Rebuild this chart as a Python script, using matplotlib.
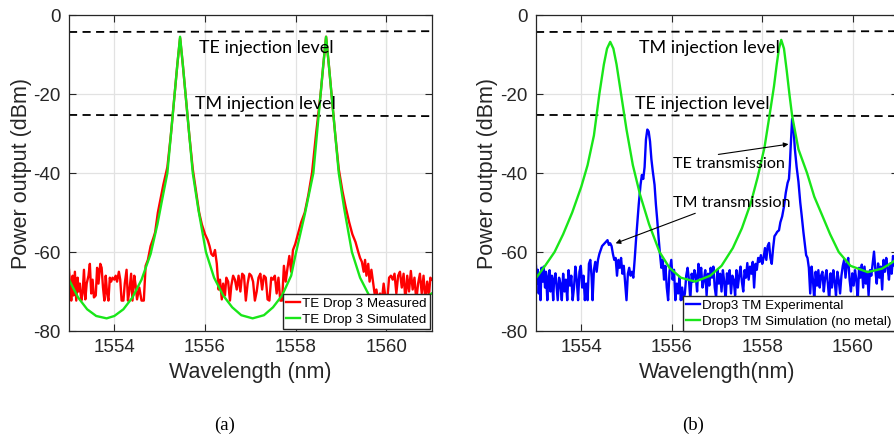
import numpy as np
import matplotlib
matplotlib.use('Agg')
import matplotlib.pyplot as plt

plt.rcParams['font.family'] = ['Liberation Sans', 'DejaVu Sans']
plt.rcParams['axes.unicode_minus'] = False

# ---- panel (a): TE drop 3 ----
te_meas_wl = [
    1553.00, 1553.03, 1553.05, 1553.08, 1553.10, 1553.13, 1553.16, 1553.19, 1553.21, 1553.24,
    1553.27, 1553.30, 1553.33, 1553.36, 1553.39, 1553.43, 1553.46, 1553.49, 1553.52, 1553.55,
    1553.59, 1553.62, 1553.65, 1553.69, 1553.72, 1553.75, 1553.78, 1553.81, 1553.84, 1553.87,
    1553.90, 1553.93, 1553.96, 1554.00, 1554.03, 1554.06, 1554.10, 1554.13, 1554.16, 1554.20,
    1554.23, 1554.27, 1554.30, 1554.33, 1554.37, 1554.40, 1554.44, 1554.47, 1554.50, 1554.55,
    1554.60, 1554.65, 1554.69, 1554.74, 1554.80, 1554.86, 1554.90, 1554.96, 1555.02, 1555.08,
    1555.17, 1555.25, 1555.33, 1555.39, 1555.45, 1555.51, 1555.57, 1555.65, 1555.73, 1555.80,
    1555.87, 1555.93, 1556.00, 1556.06, 1556.10, 1556.14, 1556.18, 1556.22, 1556.26, 1556.30,
    1556.33, 1556.37, 1556.40, 1556.44, 1556.47, 1556.51, 1556.55, 1556.58, 1556.62, 1556.66,
    1556.70, 1556.74, 1556.78, 1556.82, 1556.86, 1556.90, 1556.94, 1556.98, 1557.02, 1557.06,
    1557.10, 1557.14, 1557.18, 1557.22, 1557.26, 1557.30, 1557.34, 1557.38, 1557.42, 1557.46,
    1557.50, 1557.54, 1557.58, 1557.62, 1557.66, 1557.70, 1557.74, 1557.78, 1557.82, 1557.86,
    1557.90, 1557.94, 1557.99, 1558.05, 1558.12, 1558.20, 1558.28, 1558.36, 1558.45, 1558.55,
    1558.61, 1558.67, 1558.73, 1558.79, 1558.87, 1558.95, 1559.03, 1559.10, 1559.18, 1559.25,
    1559.32, 1559.38, 1559.42, 1559.46, 1559.50, 1559.53, 1559.56, 1559.60, 1559.63, 1559.67,
    1559.70, 1559.74, 1559.78, 1559.82, 1559.86, 1559.90, 1559.94, 1559.98, 1560.02, 1560.06,
    1560.10, 1560.14, 1560.18, 1560.22, 1560.26, 1560.30, 1560.34, 1560.38, 1560.42, 1560.46,
    1560.50, 1560.54, 1560.58, 1560.62, 1560.66, 1560.70, 1560.74, 1560.78, 1560.82, 1560.86,
    1560.90, 1560.94, 1560.97, 1561.00]
te_meas_db = [
    -64.5, -69.5, -72.3, -66.0, -71.0, -65.0, -72.3, -66.5, -70.0, -68.0,
    -72.3, -70.5, -64.5, -72.0, -68.0, -66.0, -63.0, -70.5, -67.0, -71.5,
    -71.0, -64.0, -68.0, -63.0, -64.0, -69.0, -72.3, -66.0, -70.5, -72.3,
    -66.5, -67.5, -66.5, -67.0, -66.0, -67.5, -65.0, -67.0, -72.3, -72.3,
    -68.0, -64.5, -72.3, -70.0, -65.5, -72.3, -66.0, -68.5, -72.0, -69.0,
    -72.3, -72.3, -63.5, -62.0, -58.5, -56.5, -55.0, -50.0, -46.5, -43.0,
    -38.5, -30.0, -20.0, -12.5, -5.8, -12.5, -20.0, -30.0, -39.0, -44.5,
    -50.0, -53.0, -55.5, -57.0, -58.5, -60.5, -61.0, -59.5, -63.0, -69.5,
    -67.0, -72.0, -68.0, -71.0, -66.5, -67.5, -72.3, -68.5, -66.0, -67.0,
    -69.5, -66.0, -70.0, -65.5, -66.0, -72.3, -68.0, -65.5, -66.0, -67.5,
    -72.3, -70.0, -66.5, -65.5, -69.5, -66.0, -66.5, -72.0, -72.3, -66.5,
    -67.0, -66.0, -70.5, -66.5, -72.3, -72.3, -63.5, -67.5, -64.0, -61.0,
    -65.0, -59.5, -58.0, -55.5, -52.5, -50.0, -45.5, -40.0, -30.0, -20.0,
    -12.5, -5.5, -12.5, -20.0, -30.0, -39.0, -44.5, -48.5, -52.5, -55.5,
    -57.5, -60.0, -61.5, -62.5, -65.0, -62.0, -66.0, -63.0, -67.5, -64.5,
    -67.0, -70.5, -69.5, -72.3, -70.5, -72.3, -68.0, -71.5, -72.3, -66.5,
    -66.0, -67.0, -65.5, -70.5, -66.0, -65.0, -69.0, -65.5, -72.3, -66.0,
    -70.0, -64.8, -69.5, -66.5, -72.3, -68.0, -65.5, -70.5, -66.0, -72.3,
    -67.5, -71.0, -66.5, -67.0]

te_sim_wl = [
    1553.00, 1553.20, 1553.40, 1553.60, 1553.83, 1554.00, 1554.20, 1554.40, 1554.60, 1554.80,
    1554.95, 1555.05, 1555.17, 1555.25, 1555.33, 1555.39, 1555.45, 1555.51, 1555.57, 1555.65,
    1555.73, 1555.85, 1556.02, 1556.20, 1556.40, 1556.60, 1556.80, 1557.05, 1557.30, 1557.50,
    1557.70, 1557.90, 1558.01, 1558.20, 1558.39, 1558.47, 1558.55, 1558.61, 1558.67, 1558.73,
    1558.79, 1558.87, 1558.95, 1559.07, 1559.24, 1559.42, 1559.62, 1559.85, 1560.10, 1560.40,
    1560.70, 1561.00]
te_sim_db = [
    -67.0, -71.5, -74.5, -76.2, -76.8, -76.2, -74.5, -71.5, -67.0, -60.5,
    -53.0, -47.0, -40.0, -30.0, -20.0, -12.5, -5.5, -12.5, -20.0, -30.0,
    -40.0, -49.0, -60.0, -66.5, -71.0, -74.0, -76.0, -76.8, -76.0, -74.0,
    -71.0, -66.0, -60.0, -50.5, -40.0, -30.0, -20.0, -12.5, -5.5, -12.5,
    -20.0, -30.0, -40.0, -49.0, -60.0, -66.5, -71.0, -74.0, -75.5, -74.5,
    -72.5, -70.5]

# ---- panel (b): TM drop 3 ----
tm_exp_wl = [
    1553.00, 1553.02, 1553.04, 1553.06, 1553.08, 1553.10, 1553.12, 1553.15, 1553.17, 1553.20,
    1553.22, 1553.25, 1553.27, 1553.30, 1553.32, 1553.35, 1553.38, 1553.40, 1553.43, 1553.46,
    1553.48, 1553.51, 1553.54, 1553.57, 1553.60, 1553.63, 1553.66, 1553.69, 1553.72, 1553.75,
    1553.78, 1553.81, 1553.84, 1553.87, 1553.90, 1553.93, 1553.96, 1553.99, 1554.02, 1554.05,
    1554.08, 1554.11, 1554.14, 1554.17, 1554.20, 1554.23, 1554.25, 1554.28, 1554.31, 1554.34,
    1554.37, 1554.40, 1554.43, 1554.46, 1554.50, 1554.54, 1554.58, 1554.61, 1554.64, 1554.67,
    1554.70, 1554.73, 1554.76, 1554.79, 1554.82, 1554.85, 1554.88, 1554.91, 1554.94, 1554.97,
    1555.00, 1555.03, 1555.06, 1555.09, 1555.12, 1555.15, 1555.18, 1555.21, 1555.24, 1555.27,
    1555.31, 1555.34, 1555.37, 1555.40, 1555.43, 1555.46, 1555.49, 1555.52, 1555.55, 1555.58,
    1555.62, 1555.65, 1555.68, 1555.71, 1555.74, 1555.77, 1555.80, 1555.83, 1555.86, 1555.89,
    1555.92, 1555.95, 1555.99, 1556.02, 1556.05, 1556.08, 1556.11, 1556.14, 1556.17, 1556.20,
    1556.23, 1556.26, 1556.29, 1556.32, 1556.35, 1556.38, 1556.41, 1556.44, 1556.47, 1556.50,
    1556.53, 1556.56, 1556.59, 1556.62, 1556.65, 1556.68, 1556.71, 1556.74, 1556.77, 1556.80,
    1556.83, 1556.86, 1556.89, 1556.92, 1556.95, 1556.98, 1557.01, 1557.04, 1557.07, 1557.10,
    1557.13, 1557.16, 1557.19, 1557.22, 1557.25, 1557.28, 1557.31, 1557.34, 1557.37, 1557.40,
    1557.43, 1557.46, 1557.49, 1557.52, 1557.55, 1557.58, 1557.61, 1557.64, 1557.67, 1557.70,
    1557.73, 1557.76, 1557.79, 1557.82, 1557.85, 1557.88, 1557.91, 1557.94, 1557.97, 1558.00,
    1558.03, 1558.06, 1558.09, 1558.12, 1558.15, 1558.18, 1558.21, 1558.24, 1558.27, 1558.30,
    1558.33, 1558.37, 1558.40, 1558.44, 1558.48, 1558.52, 1558.56, 1558.59, 1558.61, 1558.63,
    1558.66, 1558.69, 1558.72, 1558.76, 1558.80, 1558.84, 1558.87, 1558.91, 1558.94, 1558.97,
    1559.00, 1559.03, 1559.06, 1559.09, 1559.12, 1559.15, 1559.18, 1559.21, 1559.24, 1559.27,
    1559.30, 1559.33, 1559.36, 1559.39, 1559.42, 1559.45, 1559.48, 1559.51, 1559.54, 1559.57,
    1559.60, 1559.63, 1559.66, 1559.69, 1559.72, 1559.75, 1559.78, 1559.81, 1559.84, 1559.87,
    1559.90, 1559.93, 1559.96, 1559.99, 1560.02, 1560.05, 1560.08, 1560.11, 1560.14, 1560.17,
    1560.20, 1560.23, 1560.26, 1560.29, 1560.32, 1560.35, 1560.38, 1560.41, 1560.44, 1560.47,
    1560.50, 1560.53, 1560.56, 1560.59, 1560.62, 1560.65, 1560.68, 1560.71, 1560.74, 1560.77,
    1560.80, 1560.83, 1560.86, 1560.89, 1560.92, 1560.95, 1560.98, 1561.00]
tm_exp_db = [
    -63.5, -68.0, -64.5, -70.5, -66.0, -72.2, -64.0, -67.5, -63.7, -69.0,
    -65.0, -72.2, -66.5, -64.6, -70.0, -66.0, -72.2, -67.0, -65.4, -69.5,
    -72.2, -66.5, -68.0, -72.2, -65.5, -70.0, -67.0, -72.2, -64.6, -68.5,
    -66.0, -72.2, -69.0, -63.7, -67.0, -72.2, -65.0, -63.5, -69.0, -66.0,
    -72.2, -68.0, -72.2, -63.0, -62.0, -66.5, -72.2, -64.5, -62.5, -65.0,
    -62.0, -60.5, -59.5, -58.5, -58.0, -57.5, -57.0, -58.2, -57.8, -58.5,
    -60.5, -62.0, -61.5, -66.0, -62.0, -64.0, -61.5, -65.5, -63.5, -68.0,
    -72.2, -65.5, -64.0, -66.0, -65.0, -66.5, -62.0, -57.0, -52.5, -48.0,
    -43.0, -40.5, -41.5, -38.5, -31.5, -29.0, -29.5, -32.0, -36.5, -39.5,
    -43.0, -48.0, -52.0, -56.5, -60.5, -64.0, -62.0, -67.0, -63.5, -69.0,
    -72.2, -65.0, -62.0, -67.0, -64.5, -72.2, -68.0, -70.5, -66.5, -72.2,
    -69.0, -72.2, -70.5, -66.0, -64.0, -67.0, -72.0, -65.5, -67.5, -64.6,
    -66.0, -70.0, -63.0, -66.5, -64.0, -69.0, -67.0, -64.6, -71.0, -65.5,
    -68.5, -64.0, -66.5, -63.7, -69.0, -71.5, -64.5, -68.0, -65.5, -70.0,
    -64.6, -67.5, -72.2, -65.4, -68.0, -64.6, -70.5, -66.0, -67.1, -71.0,
    -64.6, -69.0, -66.0, -63.7, -67.5, -70.0, -64.6, -66.5, -62.8, -67.0,
    -63.7, -65.5, -62.5, -69.0, -63.0, -64.5, -61.5, -62.5, -60.8, -63.0,
    -61.5, -59.0, -62.0, -58.5, -57.7, -61.5, -63.0, -59.0, -56.0, -55.5,
    -54.9, -54.5, -52.5, -51.0, -48.5, -45.0, -42.5, -41.5, -38.0, -33.0,
    -26.3, -28.5, -33.8, -38.5, -42.2, -47.5, -50.6, -55.0, -58.0, -60.8,
    -61.5, -64.0, -70.5, -63.7, -67.0, -72.2, -65.0, -68.5, -64.6, -69.0,
    -66.0, -65.0, -70.0, -66.5, -64.6, -68.0, -72.2, -65.4, -69.0, -64.6,
    -67.5, -71.0, -65.0, -67.1, -70.5, -66.0, -63.5, -62.0, -66.5, -62.9,
    -61.5, -67.0, -70.0, -65.4, -68.5, -64.6, -67.0, -72.2, -64.0, -66.5,
    -63.2, -69.0, -63.7, -68.0, -65.0, -71.0, -64.6, -66.0, -63.0, -59.9,
    -64.6, -68.0, -62.9, -66.5, -63.7, -69.5, -62.0, -65.0, -61.5, -64.0,
    -67.0, -62.9, -65.5, -61.0, -63.5, -62.5, -64.0, -63.0]

tm_sim_wl = [
    1553.00, 1553.20, 1553.41, 1553.60, 1553.80, 1554.00, 1554.14, 1554.28, 1554.40, 1554.50,
    1554.57, 1554.64, 1554.71, 1554.78, 1554.88, 1555.00, 1555.14, 1555.30, 1555.50, 1555.73,
    1555.95, 1556.20, 1556.52, 1556.85, 1557.10, 1557.35, 1557.55, 1557.75, 1557.90, 1558.05,
    1558.18, 1558.26, 1558.32, 1558.37, 1558.42, 1558.48, 1558.54, 1558.60, 1558.66, 1558.80,
    1558.99, 1559.15, 1559.32, 1559.50, 1559.69, 1559.95, 1560.33, 1560.65, 1560.85, 1561.00]
tm_sim_db = [
    -66.6, -63.5, -60.0, -55.5, -50.0, -43.5, -38.0, -30.5, -20.0, -12.5,
    -8.5, -6.8, -8.5, -12.5, -20.0, -29.0, -38.0, -45.5, -53.0, -60.0,
    -64.0, -66.5, -67.5, -66.0, -63.5, -59.0, -54.0, -47.5, -41.0, -33.5,
    -24.0, -18.0, -12.5, -8.5, -6.3, -8.5, -14.0, -20.0, -25.5, -34.0,
    -40.0, -46.0, -50.6, -55.5, -60.0, -63.5, -65.1, -64.2, -62.8, -61.5]

# injection levels (dBm) at left / right edge of the axes
te_level = [-4.3, -4.1]
tm_level = [-25.3, -25.6]

xticks = [1554, 1556, 1558, 1560]
yticks = [0, -20, -40, -60, -80]

red = '#ff0000'
green = '#19e619'
blue = '#0000ff'
note_font = ['Lato', 'DejaVu Sans']

fig = plt.figure(figsize=(8.95, 4.36), dpi=100)
ax1 = fig.add_axes([69 / 895, 105 / 436, 362.7 / 895, 316 / 436])
ax2 = fig.add_axes([536 / 895, 105 / 436, 362 / 895, 316 / 436])

for ax in (ax1, ax2):
    ax.set_xlim(1553, 1561)
    ax.set_ylim(-80, 0)
    ax.set_xticks(xticks)
    ax.set_yticks(yticks)
    ax.grid(True, color='#e2e2e2', lw=0.9)
    ax.set_axisbelow(True)
    ax.tick_params(direction='in', top=True, right=True, length=5,
                   labelsize=13.5, colors='#262626', pad=6)
    for s in ax.spines.values():
        s.set_color('#262626')
        s.set_linewidth(0.9)
    ax.plot([1553, 1561], te_level, color='k', ls=(0, (4.5, 3)), lw=1.3)
    ax.plot([1553, 1561], tm_level, color='k', ls=(0, (4.5, 3)), lw=1.3)
    ax.set_ylabel('Power output (dBm)', fontsize=15.5, color='#262626')

ax1.plot(te_meas_wl, te_meas_db, color=red, lw=1.7, label='TE Drop 3 Measured')
ax1.plot(te_sim_wl, te_sim_db, color=green, lw=1.7, label='TE Drop 3 Simulated')
ax1.set_xlabel('Wavelength (nm)', fontsize=15.5, color='#262626')
ax1.yaxis.set_label_coords(-0.102, 0.5)
ax1.text(1555.87, -9.6, 'TE injection level', fontsize=12.9, family=note_font)
ax1.text(1555.77, -23.8, 'TM injection level', fontsize=12.9, family=note_font)
leg1 = ax1.legend(loc='lower right', fontsize=9.6, handlelength=1.05,
                  handletextpad=0.15, borderaxespad=0.15, borderpad=0.25,
                  labelspacing=0.25, fancybox=False, framealpha=1)
leg1.get_frame().set_edgecolor('#262626')

ax2.plot(tm_exp_wl, tm_exp_db, color=blue, lw=1.7, label='Drop3 TM Experimental')
ax2.plot(tm_sim_wl, tm_sim_db, color=green, lw=1.7, label='Drop3 TM Simulation (no metal)')
ax2.set_xlabel('Wavelength(nm)', fontsize=15.5, color='#262626')
ax2.yaxis.set_label_coords(-0.105, 0.5)
ax2.text(1555.28, -9.6, 'TM injection level', fontsize=12.9, family=note_font)
ax2.text(1555.19, -23.8, 'TE injection level', fontsize=12.9, family=note_font)
ax2.text(1556.02, -38.8, 'TE transmission', fontsize=11.6, family=note_font)
ax2.text(1556.02, -48.5, 'TM transmission', fontsize=11.6, family=note_font)
arrow = dict(arrowstyle='-|>', color='k', lw=0.8, mutation_scale=7, shrinkA=0, shrinkB=0)
ax2.annotate('', xy=(1558.58, -32.7), xytext=(1557.03, -35.3), arrowprops=arrow)
ax2.annotate('', xy=(1554.76, -57.8), xytext=(1556.52, -50.2), arrowprops=arrow)
leg2 = ax2.legend(loc='lower right', bbox_to_anchor=(0.992, 0.0), fontsize=9.6,
                  handlelength=1.05, handletextpad=0.15, borderaxespad=0.0,
                  borderpad=0.25, labelspacing=0.25, fancybox=False, framealpha=1)
leg2.get_frame().set_edgecolor('#262626')

fig.text(225 / 895, 1 - 425 / 436, '(a)', family='Liberation Serif', fontsize=13.5,
         ha='center', va='center')
fig.text(693 / 895, 1 - 425 / 436, '(b)', family='Liberation Serif', fontsize=13.5,
         ha='center', va='center')

fig.savefig('out.png', dpi=100)
